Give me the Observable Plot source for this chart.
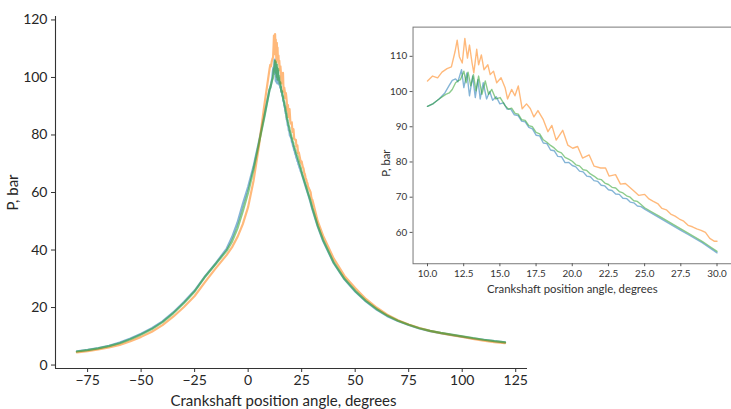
<!DOCTYPE html>
<html>
<head>
<meta charset="utf-8">
<script src="https://cdn.jsdelivr.net/npm/d3@7"></script>
<script src="https://cdn.jsdelivr.net/npm/@observablehq/plot@0.6"></script>
<style>
  html, body { margin: 0; padding: 0; background: #fff; overflow: hidden; }
  #wrap { position: relative; width: 731px; height: 409px; overflow: hidden; background: #fff; }
  #main { position: absolute; left: 0; top: 0; }
  #inset { position: absolute; left: 380px; top: 0; }
</style>
</head>
<body>
<div id="wrap"><div id="main"></div><div id="inset"></div></div>
<script>
// ---- Data ----
const seriesNames = ["blue", "orange", "green"];
const seriesColors = ["#1f77b4", "#ff7f0e", "#2ca02c"];

const leftAngle = [-80,-75,-70,-65,-60,-55,-50,-45,-40,-35,-30,-25,-20,-15,-10,-7.5,-5,-2.5,0,2.5,5,7.5];
const rightAngle = [32.5,35,40,45,50,55,60,65,70,75,80,85,90,95,100,105,110,115,120];

const blueLeft   = [4.8,5.3,5.9,6.7,7.8,9.2,10.9,12.8,15.2,18.3,21.9,25.9,31.0,35.5,40.5,44.5,49.5,56.0,62.0,69.0,77.5,86.5];
const orangeLeft = [4.4,4.8,5.4,6.1,7.0,8.3,9.8,11.6,13.9,16.8,20.2,24.0,29.0,33.8,38.3,41.0,44.5,49.0,55.0,64.0,76.0,90.0];
const greenLeft  = [4.7,5.2,5.8,6.6,7.6,9.0,10.6,12.5,14.9,18.0,21.6,25.6,30.8,35.3,39.8,43.0,47.5,53.5,60.0,68.0,77.0,86.0];

const blueRight   = [48.2,43.2,35.4,29.8,25.6,22.1,19.3,17.0,15.3,13.9,12.7,11.8,11.1,10.5,9.9,9.3,8.8,8.3,7.9];
const orangeRight = [50.0,45.0,37.0,31.0,26.8,23.0,20.0,17.5,15.6,14.1,12.9,11.9,11.1,10.4,9.8,9.1,8.5,8.0,7.6];
const greenRight  = [48.5,43.5,35.6,30.0,25.8,22.3,19.5,17.2,15.4,14.0,12.8,11.9,11.2,10.6,10.0,9.4,8.8,8.3,7.9];

// detailed readings 10..30 degrees (from the inset): [angle, pressure]
const blueMid = [[10.0,95.8],[10.4,96.6],[10.8,97.9],[11.2,99.6],[11.48,101.6],[11.71,103.2],[11.94,103.6],[12.1,102.8],[12.35,106.2],[12.51,101.1],[12.72,105.3],[12.9,98.8],[13.12,104.4],[13.3,98.3],[13.48,103.4],[13.64,97.9],[13.85,102.5],[14.08,97.9],[14.3,100.0],[14.5,97.5],[14.75,98.5],[15.0,96.5],[15.25,96.8],[15.5,95.0],[15.75,95.0],[16.0,93.4],[16.25,93.2],[16.5,91.6],[16.75,91.4],[17.0,89.8],[17.25,89.4],[17.5,87.6],[17.75,87.4],[18.0,85.4],[18.25,85.2],[18.5,83.4],[18.75,83.2],[19.0,81.6],[19.25,81.5],[19.5,79.8],[19.75,79.9],[20.0,79.0],[20.25,78.6],[20.5,77.4],[20.75,77.2],[21.0,76.0],[21.25,75.8],[21.5,74.7],[21.75,74.5],[22.0,73.4],[22.25,73.2],[22.5,72.1],[22.75,71.9],[23.0,70.9],[23.25,70.8],[23.5,69.7],[23.75,69.6],[24.0,68.6],[24.25,68.4],[24.5,67.5],[24.75,67.3],[25.0,66.6],[25.5,65.4],[26.0,64.2],[26.5,63.0],[27.0,61.8],[27.5,60.6],[28.0,59.4],[28.5,58.2],[29.0,57.0],[29.5,55.6],[30.0,54.2]];
const orangeMid = [[10.0,103.0],[10.35,104.4],[10.7,103.9],[11.0,105.5],[11.35,106.5],[11.65,107.0],[11.9,111.3],[12.05,114.6],[12.2,109.9],[12.4,108.1],[12.58,115.1],[12.76,109.5],[12.9,113.2],[13.08,108.1],[13.2,105.3],[13.4,112.0],[13.53,107.6],[13.72,110.4],[13.9,106.2],[14.17,107.6],[14.33,104.8],[14.56,105.8],[14.78,102.5],[15.08,103.9],[15.36,101.1],[15.53,97.9],[15.81,100.6],[16.04,98.8],[16.27,101.6],[16.54,95.1],[16.84,96.5],[17.1,95.2],[17.35,92.8],[17.63,94.6],[18.0,92.0],[18.32,88.6],[18.59,90.4],[18.89,86.2],[19.34,89.0],[19.69,84.8],[20.03,83.9],[20.37,84.4],[20.71,81.1],[21.17,82.0],[21.51,78.8],[21.96,78.3],[22.3,78.3],[22.54,76.0],[22.99,76.4],[23.33,73.7],[23.67,73.9],[24.24,71.8],[24.6,70.5],[25.0,70.8],[25.3,69.5],[25.6,68.8],[25.9,68.2],[26.2,66.8],[26.5,66.4],[26.8,65.2],[27.1,64.6],[27.4,63.8],[27.7,63.2],[28.0,62.0],[28.3,61.6],[28.6,61.0],[28.9,60.6],[29.2,60.0],[29.5,58.3],[29.8,57.5],[30.0,57.5]];
const greenMid = [[10.0,95.8],[10.4,96.6],[10.8,97.9],[11.26,99.2],[11.5,99.6],[11.71,100.6],[11.94,102.5],[12.1,103.0],[12.28,103.4],[12.51,105.8],[12.67,102.5],[12.8,105.5],[12.99,101.6],[13.17,104.8],[13.35,100.2],[13.53,104.4],[13.76,99.2],[13.99,103.0],[14.22,99.2],[14.44,100.6],[14.72,97.9],[15.02,98.3],[15.36,96.0],[15.6,95.0],[15.81,95.3],[16.05,93.8],[16.27,93.6],[16.5,92.0],[16.75,91.8],[17.0,90.3],[17.25,90.0],[17.5,88.4],[17.75,88.0],[18.0,86.3],[18.25,85.6],[18.5,84.7],[18.75,84.0],[19.0,83.0],[19.25,82.6],[19.5,81.3],[19.75,80.8],[20.0,80.2],[20.25,79.2],[20.5,78.9],[20.75,77.8],[21.0,77.6],[21.25,76.6],[21.5,76.0],[21.75,75.2],[22.0,75.0],[22.25,74.0],[22.5,73.6],[22.75,72.8],[23.0,72.6],[23.25,71.6],[23.5,71.2],[23.75,70.4],[24.0,70.0],[24.25,69.0],[24.5,68.8],[24.75,67.9],[25.0,67.0],[25.5,65.8],[26.0,64.6],[26.5,63.4],[27.0,62.2],[27.5,61.0],[28.0,59.8],[28.5,58.6],[29.0,57.4],[29.5,56.0],[30.0,54.6]];

const mainXTicks = [-75,-50,-25,0,25,50,75,100,125];
const mainYTicks = [0,20,40,60,80,100,120];
const insetXTicks = [10,12.5,15,17.5,20,22.5,25,27.5,30];
const insetYTicks = [60,70,80,90,100,110];

const mainXDomain = [-90, 130.5];
const mainYDomain = [-1.2, 121.2];
const insetXDomain = [9, 31];
const insetYDomain = [51.1, 118.3];
const insetRange = [10, 30];

const xLabel = "Crankshaft position angle, degrees";
const yLabel = "P, bar";

// ---- Build tables ----
function build(left, mid, right) {
  const rows = [];
  leftAngle.forEach((a, i) => rows.push({angle: a, p: left[i]}));
  mid.forEach(([a, p]) => rows.push({angle: a, p}));
  rightAngle.forEach((a, i) => rows.push({angle: a, p: right[i]}));
  return rows;
}
const series = [
  build(blueLeft, blueMid, blueRight),
  build(orangeLeft, orangeMid, orangeRight),
  build(greenLeft, greenMid, greenRight)
];
const inWindow = d => d.angle >= insetRange[0] && d.angle <= insetRange[1];

const font = "Lato, 'DejaVu Sans', sans-serif";

// ---- Main chart ----
const main = Plot.plot({
  width: 731, height: 409,
  marginLeft: 55, marginRight: 204, marginTop: 16, marginBottom: 41,
  style: {fontFamily: font, fontSize: "14px", color: "#262626", background: "transparent"},
  x: {domain: mainXDomain},
  y: {domain: mainYDomain},
  marks: [
    Plot.ruleX([mainXDomain[0]], {stroke: "#333", strokeWidth: 1.1}),
    Plot.ruleY([mainYDomain[0]], {stroke: "#333", strokeWidth: 1.1}),
    Plot.axisX({ticks: mainXTicks, tickSize: 4, tickPadding: 3, stroke: "#333",
      label: xLabel, labelAnchor: "center", labelArrow: "none", labelOffset: 37}),
    Plot.axisY({ticks: mainYTicks, tickSize: 4, tickPadding: 4, stroke: "#333",
      label: yLabel, labelAnchor: "center", labelArrow: "none", labelOffset: 48}),
    ...series.map((s, i) => Plot.line(s, {x: "angle", y: "p", stroke: seriesColors[i], strokeWidth: 2.2, strokeOpacity: 0.55}))
  ]
});
document.getElementById("main").appendChild(main);
d3.select(main).selectAll('[aria-label="x-axis label"] text').style("font-size", "15px").attr("dx", -8);
d3.select(main).selectAll('[aria-label="y-axis label"] text').style("font-size", "15px");

// ---- Inset ----
const inset = Plot.plot({
  width: 356, height: 300,
  marginLeft: 33, marginRight: 0, marginTop: 27, marginBottom: 33,
  style: {fontFamily: font, fontSize: "10px", color: "#333", background: "#fff"},
  x: {domain: insetXDomain},
  y: {domain: insetYDomain},
  marks: [
    Plot.frame({stroke: "#777", strokeWidth: 1}),
    Plot.axisX({ticks: insetXTicks, tickFormat: d3.format(".1f"), tickSize: 3, tickPadding: 3, stroke: "#555",
      label: xLabel, labelAnchor: "center", labelArrow: "none", labelOffset: 30}),
    Plot.axisY({ticks: insetYTicks, tickSize: 3, tickPadding: 3, stroke: "#555",
      label: yLabel, labelAnchor: "center", labelArrow: "none", labelOffset: 32}),
    ...series.map((s, i) => Plot.line(s.filter(inWindow), {x: "angle", y: "p", stroke: seriesColors[i], strokeWidth: 1.4, strokeOpacity: 0.55}))
  ]
});
document.getElementById("inset").appendChild(inset);
d3.select(inset).selectAll('[aria-label="x-axis label"] text').style("font-size", "11.5px");
d3.select(inset).selectAll('[aria-label="y-axis label"] text').style("font-size", "11.5px").attr("dx", -18);
</script>
</body>
</html>
